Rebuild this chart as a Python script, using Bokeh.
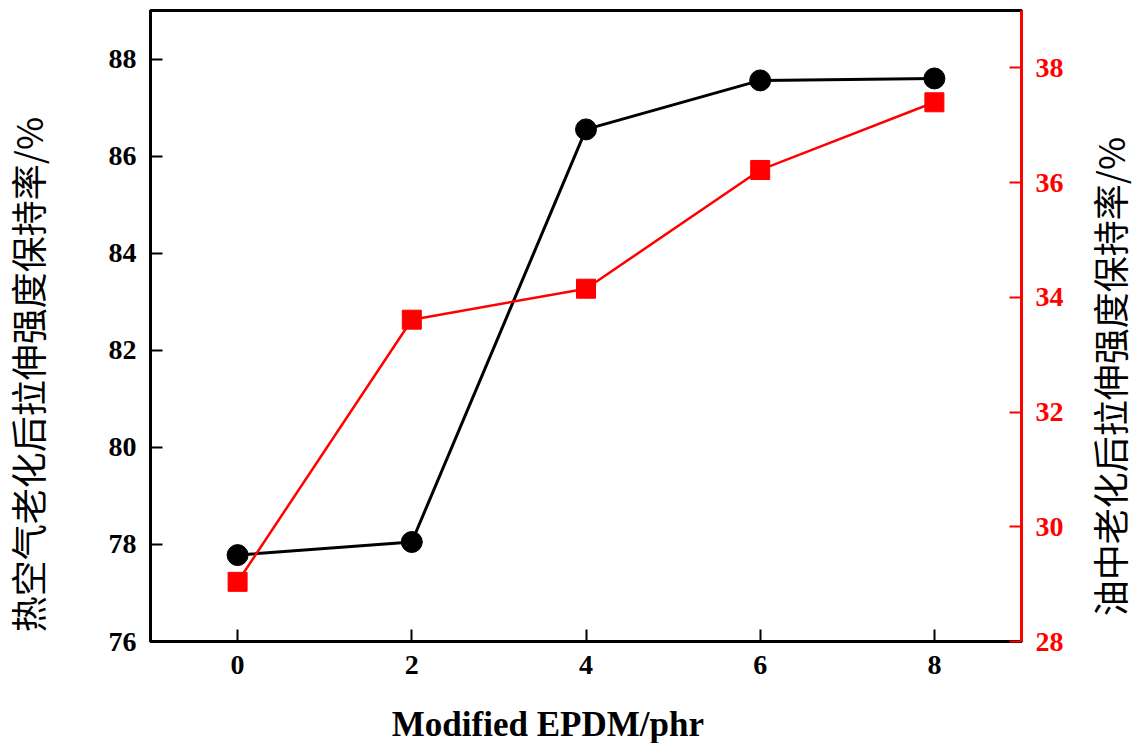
import math
from bokeh.plotting import figure
from bokeh.models import Range1d, LinearAxis, FixedTicker
from bokeh.layouts import row, column
from bokeh.core.properties import value
from bokeh.embed import file_html
from bokeh.resources import INLINE

# Modified EPDM loading (phr)
epdm_phr = [0, 2, 4, 6, 8]
# Tensile strength retention after hot-air ageing (%)
air_retention = [77.78, 78.05, 86.55, 87.56, 87.60]
# Tensile strength retention after oil ageing (%)
oil_retention = [29.04, 33.61, 34.15, 36.22, 37.40]

x_ticks = [0, 2, 4, 6, 8]
left_ticks = [76, 78, 80, 82, 84, 86, 88]
right_ticks = [28, 30, 32, 34, 36, 38]

x_title = "Modified EPDM/phr"
left_title = "热空气老化后拉伸强度保持率/%"
right_title = "油中老化后拉伸强度保持率/%"

RED = "#ff0000"
SERIF = "Liberation Serif"
CJK = "Noto Sans CJK SC"

# ---- main chart -------------------------------------------------------
p = figure(
    frame_width=871, frame_height=631,
    min_border_left=94, min_border_right=63,
    min_border_top=10, min_border_bottom=50,
    x_range=Range1d(-1, 9), y_range=Range1d(76, 89),
    output_backend="svg", toolbar_location=None,
    background_fill_color="white", border_fill_color="white",
)
p.extra_y_ranges = {"oil": Range1d(28, 39)}

p.xgrid.visible = False
p.ygrid.visible = False
p.outline_line_color = "black"
p.outline_line_width = 3


def style_axis(ax, color, ticks):
    ax.ticker = FixedTicker(ticks=ticks)
    ax.axis_line_color = color
    ax.axis_line_width = 3
    ax.major_tick_line_color = color
    ax.major_tick_line_width = 2
    ax.major_tick_in = 12
    ax.major_tick_out = 0
    ax.minor_tick_line_color = None
    ax.major_label_text_font = SERIF
    ax.major_label_text_font_style = "bold"
    ax.major_label_text_font_size = "28px"
    ax.major_label_text_color = color
    ax.major_label_standoff = 14


style_axis(p.xaxis[0], "black", x_ticks)
style_axis(p.yaxis[0], "black", left_ticks)

ra = LinearAxis(y_range_name="oil")
style_axis(ra, RED, right_ticks)
p.add_layout(ra, "right")

# hot-air ageing series (left axis)
p.line(epdm_phr, air_retention, line_color="black", line_width=3)
p.scatter(epdm_phr, air_retention, marker="circle", size=21,
          fill_color="black", line_color="black")

# oil ageing series (right axis)
p.line(epdm_phr, oil_retention, line_color=RED, line_width=2.5, y_range_name="oil")
p.scatter(epdm_phr, oil_retention, marker="square", size=19,
          fill_color=RED, line_color=RED, y_range_name="oil")


# ---- title strips around the chart (pixel coordinate space) ------------
def strip(w, h):
    f = figure(width=w, height=h, x_range=Range1d(0, w), y_range=Range1d(0, h),
               min_border=0, x_axis_location=None, y_axis_location=None,
               output_backend="svg", toolbar_location=None,
               background_fill_color="white", border_fill_color="white")
    f.outline_line_color = None
    f.xgrid.visible = False
    f.ygrid.visible = False
    return f


left_strip = strip(56, 743)
left_strip.text(x=[26], y=[369], text=[left_title], angle=math.pi / 2,
                text_font=value(CJK), text_font_size="36px", text_color="black",
                text_align="center", text_baseline="middle")

right_strip = strip(50, 743)
right_strip.text(x=[24], y=[367], text=[right_title], angle=math.pi / 2,
                 text_font=value(CJK), text_font_size="36px", text_color="black",
                 text_align="center", text_baseline="middle")

bottom_strip = strip(1028, 52)
bottom_strip.text(x=[469], y=[19], text=[x_title],
                  text_font=value(SERIF), text_font_style="bold",
                  text_font_size="35px", text_color="black",
                  text_align="center", text_baseline="alphabetic")

layout = row(left_strip, column(p, bottom_strip, spacing=0), right_strip, spacing=0)

open("out.html", "w").write(file_html(layout, INLINE))
